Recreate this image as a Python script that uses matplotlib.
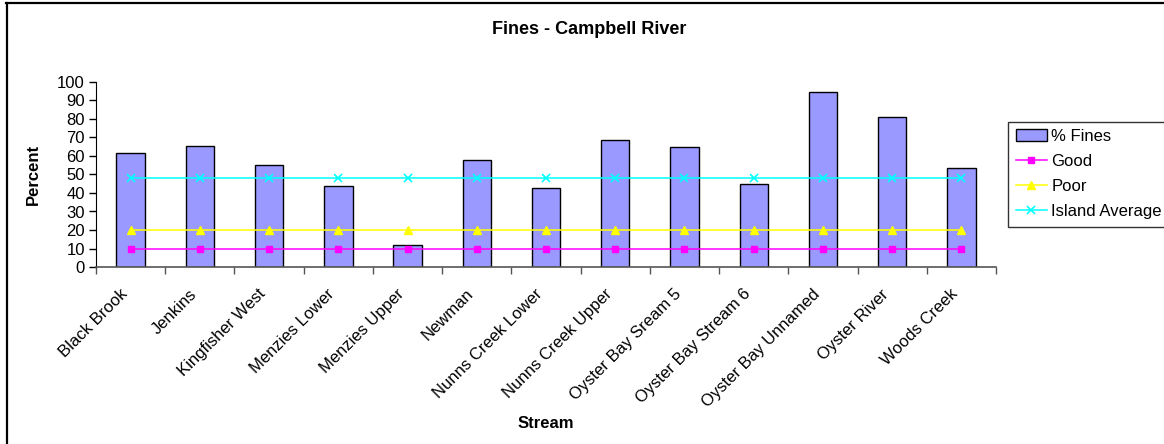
import matplotlib
matplotlib.use("Agg")
import matplotlib.pyplot as plt
from matplotlib.lines import Line2D
from matplotlib.patches import Patch
from matplotlib.transforms import ScaledTranslation
import numpy as np

streams = ["Black Brook", "Jenkins", "Kingfisher West", "Menzies Lower",
           "Menzies Upper", "Newman", "Nunns Creek Lower", "Nunns Creek Upper",
           "Oyster Bay Sream 5", "Oyster Bay Stream 6", "Oyster Bay Unnamed",
           "Oyster River", "Woods Creek"]
pct_fines = [61.4, 65.5, 55.4, 43.9, 12.1, 57.9, 42.8, 68.6, 64.8, 44.6, 94.7, 81.2, 53.4]
good = [10] * len(streams)
poor = [20] * len(streams)
island_avg = [48.2] * len(streams)

plt.rcParams['font.family'] = ['Liberation Sans', 'DejaVu Sans']

W, H = 1164, 444
fig = plt.figure(figsize=(W / 100, H / 100), dpi=100)

# chart-area border (top and left edges)
fig.add_artist(Line2D([6.5 / W, 6.5 / W], [0, 1 - 3 / H], transform=fig.transFigure,
                      color="black", lw=1.6))
fig.add_artist(Line2D([6 / W, 1], [1 - 3.5 / H, 1 - 3.5 / H], transform=fig.transFigure,
                      color="black", lw=1.6))

ax = fig.add_axes([96 / W, 1 - 267 / H, (996 - 96) / W, (267 - 82) / H])
x = np.arange(len(streams))

sq = dict(color="#FF00FF", marker="s", markersize=5, lw=1.1)
tri = dict(color="#FFFF00", marker="^", markersize=6, lw=1.1)
cross = dict(color="#00FFFF", marker="x", markersize=5.5, mew=1.2, lw=1.1)

ax.bar(x, pct_fines, width=0.41, color="#9999FF", edgecolor="black", linewidth=1.0,
       label="% Fines", zorder=2)
ax.plot(x, good, zorder=3, label="Good", **sq)
ax.plot(x, poor, zorder=3, label="Poor", **tri)
ax.plot(x, island_avg, zorder=3, label="Island Average", **cross)

ax.set_xlim(-0.5, len(streams) - 0.5)
ax.set_ylim(0, 100)
ax.set_yticks(range(0, 101, 10))
ax.tick_params(axis="y", labelsize=12, direction="out", length=5, width=1, colors="black",
               pad=3)

ax.set_xticks(x)
ax.set_xticklabels(streams, rotation=45, ha="right", va="top", rotation_mode="anchor",
                   fontsize=12)
ax.tick_params(axis="x", length=0, pad=14)
ax.set_xticks(np.arange(-0.5, len(streams), 1), minor=True)
ax.tick_params(axis="x", which="minor", length=5, width=1, direction="out", color="#555555")
shift = ScaledTranslation(-8 / 72, 0, fig.dpi_scale_trans)
for lbl in ax.get_xticklabels():
    lbl.set_transform(lbl.get_transform() + shift)

for side in ("top", "right"):
    ax.spines[side].set_visible(False)
ax.spines["left"].set_color("black")
ax.spines["bottom"].set_color("#555555")
ax.spines["bottom"].set_linewidth(1.2)

fig.text(589 / W, 1 - 30 / H, "Fines - Campbell River", ha="center", va="center",
         fontsize=13, fontweight="bold")
fig.text(33 / W, 1 - 174 / H, "Percent", ha="center", va="center", rotation=90,
         fontsize=12, fontweight="bold")
fig.text(546 / W, 1 - 423 / H, "Stream", ha="center", va="center",
         fontsize=12, fontweight="bold")

handles = [Patch(facecolor="#9999FF", edgecolor="black", linewidth=1.0),
           Line2D([], [], **sq), Line2D([], [], **tri), Line2D([], [], **cross)]
leg = fig.legend(handles, ["% Fines", "Good", "Poor", "Island Average"],
                 loc="upper left", bbox_to_anchor=(1008 / W, 1 - 121.5 / H),
                 fontsize=12, frameon=True, fancybox=False, edgecolor="black",
                 borderpad=0.45, labelspacing=0.6, handlelength=1.9, handletextpad=0.25,
                 borderaxespad=0)
leg.get_frame().set_linewidth(1.0)

fig.savefig("out.png", dpi=100, facecolor="white")
